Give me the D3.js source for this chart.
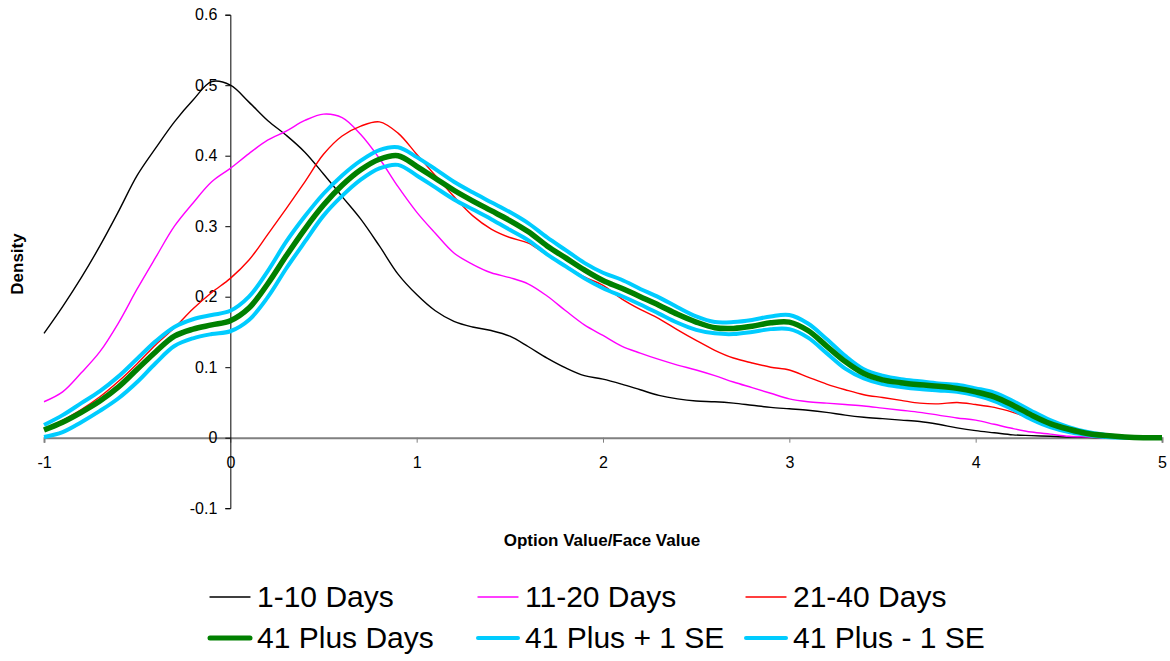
<!DOCTYPE html>
<html>
<head>
<meta charset="utf-8">
<script src="https://cdn.jsdelivr.net/npm/d3@7"></script>
<style>
  body { margin: 0; background: #fff; }
  text { font-family: "Liberation Sans", Arial, sans-serif; }
</style>
</head>
<body>
<script>
var width = 1170;
var height = 661;

// x grid shared by every series (option value / face value)
var xs = d3.range(61).map(function(i) { return +(-1 + i * 0.1).toFixed(1); });

var days1to10 = [0.148,0.186,0.227,0.272,0.321,0.372,0.411,0.448,0.479,0.505,
  0.500,0.476,0.450,0.429,0.405,0.374,0.342,0.310,0.272,0.232,
  0.203,0.180,0.165,0.157,0.152,0.144,0.129,0.113,0.099,0.088,
  0.083,0.076,0.068,0.060,0.055,0.052,0.051,0.049,0.046,0.043,
  0.041,0.039,0.036,0.032,0.029,0.027,0.025,0.023,0.019,0.014,
  0.010,0.007,0.004,0.003,0.002,0.001,0.0005,0,0,0,0];

var days11to20 = [0.051,0.065,0.092,0.122,0.163,0.211,0.256,0.300,0.333,0.363,
  0.382,0.403,0.422,0.435,0.450,0.459,0.454,0.430,0.396,0.356,
  0.320,0.290,0.262,0.246,0.234,0.227,0.218,0.201,0.180,0.160,
  0.145,0.130,0.120,0.111,0.103,0.096,0.088,0.079,0.071,0.063,
  0.055,0.051,0.049,0.047,0.045,0.042,0.039,0.036,0.032,0.028,
  0.025,0.019,0.013,0.008,0.005,0.002,0.001,0,0,0,0];

var days21to40 = [0.012,0.025,0.040,0.058,0.080,0.105,0.132,0.156,0.183,0.206,
  0.226,0.252,0.288,0.325,0.363,0.402,0.428,0.442,0.448,0.432,
  0.402,0.372,0.342,0.315,0.296,0.284,0.276,0.259,0.244,0.228,
  0.216,0.197,0.182,0.169,0.153,0.138,0.124,0.113,0.106,0.100,
  0.096,0.086,0.076,0.068,0.061,0.057,0.053,0.049,0.048,0.050,
  0.047,0.043,0.036,0.027,0.018,0.010,0.005,0.002,0.001,0,0];

var days41plus = [0.011,0.022,0.036,0.052,0.072,0.097,0.122,0.144,0.154,0.160,
  0.166,0.184,0.218,0.258,0.296,0.330,0.358,0.380,0.395,0.400,
  0.385,0.368,0.351,0.336,0.322,0.308,0.292,0.272,0.255,0.238,
  0.223,0.212,0.200,0.188,0.175,0.164,0.156,0.155,0.158,0.163,
  0.164,0.152,0.130,0.108,0.091,0.082,0.078,0.075,0.073,0.070,
  0.065,0.058,0.046,0.032,0.020,0.012,0.006,0.003,0.001,0,0];

var plusSE = [0.018,0.032,0.049,0.066,0.087,0.112,0.137,0.157,0.168,0.174,
  0.180,0.200,0.236,0.278,0.314,0.346,0.372,0.393,0.408,0.412,
  0.398,0.381,0.363,0.348,0.334,0.320,0.304,0.284,0.266,0.248,
  0.234,0.224,0.211,0.199,0.185,0.172,0.164,0.164,0.167,0.172,
  0.174,0.162,0.140,0.116,0.097,0.088,0.083,0.080,0.077,0.075,
  0.070,0.064,0.052,0.038,0.025,0.015,0.008,0.004,0.001,0,0];

var minusSE = [0.001,0.008,0.022,0.038,0.056,0.079,0.106,0.130,0.141,0.147,
  0.151,0.167,0.199,0.240,0.278,0.315,0.343,0.366,0.382,0.387,
  0.372,0.355,0.338,0.324,0.310,0.295,0.280,0.260,0.243,0.226,
  0.212,0.201,0.189,0.176,0.163,0.153,0.148,0.147,0.150,0.154,
  0.154,0.142,0.120,0.098,0.084,0.076,0.072,0.069,0.067,0.065,
  0.060,0.052,0.040,0.026,0.015,0.008,0.004,0.001,0,0,0];

var xTicks = [-1, 0, 1, 2, 3, 4, 5];
var xTickLabels = ["-1", "0", "1", "2", "3", "4", "5"];
var yTicks = [-0.1, 0, 0.1, 0.2, 0.3, 0.4, 0.5, 0.6];
var yTickLabels = ["-0.1", "0", "0.1", "0.2", "0.3", "0.4", "0.5", "0.6"];

var seriesNames = ["1-10 Days", "11-20 Days", "21-40 Days", "41 Plus Days", "41 Plus + 1 SE", "41 Plus - 1 SE"];

// drawing styles per series
var series = [
  { name: seriesNames[0], values: days1to10, color: "#000000", width: 1.4 },
  { name: seriesNames[1], values: days11to20, color: "#ff00ff", width: 1.4 },
  { name: seriesNames[2], values: days21to40, color: "#ff0000", width: 1.4 },
  { name: seriesNames[4], values: plusSE, color: "#00ccff", width: 4 },
  { name: seriesNames[5], values: minusSE, color: "#00ccff", width: 4 },
  { name: seriesNames[3], values: days41plus, color: "#008000", width: 5.5 }
];

var x = d3.scaleLinear().domain([-1, 5]).range([44, 1162]);
var y = d3.scaleLinear().domain([-0.1, 0.6]).range([508.2, 14.7]);

var svg = d3.select("body").append("svg")
    .attr("width", width)
    .attr("height", height);

// x axis sits on y = 0
var xAxis = d3.axisBottom(x)
    .tickValues(xTicks)
    .tickSize(5)
    .tickPadding(14)
    .tickFormat(function(d, i) { return xTickLabels[i]; });

var gx = svg.append("g")
    .attr("transform", "translate(0," + y(0) + ")")
    .call(xAxis);
gx.select(".domain").attr("stroke", "#808080").attr("stroke-width", 2);
gx.selectAll(".tick line").attr("stroke", "#808080");
gx.selectAll(".tick text").attr("font-size", 16).attr("fill", "#000")
    .style("font-family", "'Liberation Sans', Arial, sans-serif");

// y axis sits on x = 0
var yAxis = d3.axisLeft(y)
    .tickValues(yTicks)
    .tickSize(5)
    .tickPadding(8)
    .tickFormat(function(d, i) { return yTickLabels[i]; });

var gy = svg.append("g")
    .attr("transform", "translate(" + x(0) + ",0)")
    .call(yAxis);
gy.select(".domain").attr("stroke", "#000");
gy.selectAll(".tick text").attr("font-size", 16).attr("fill", "#000")
    .style("font-family", "'Liberation Sans', Arial, sans-serif");

var line = d3.line()
    .x(function(d, i) { return x(xs[i]); })
    .y(function(d) { return y(d); })
    .curve(d3.curveCatmullRom.alpha(0.5));

svg.selectAll("path.series")
    .data(series)
    .enter()
    .append("path")
    .attr("class", "series")
    .attr("d", function(d) { return line(d.values); })
    .attr("fill", "none")
    .attr("stroke", function(d) { return d.color; })
    .attr("stroke-width", function(d) { return d.width; })
    .attr("stroke-linejoin", "round");

// axis titles
svg.append("text")
    .attr("transform", "translate(23,264) rotate(-90)")
    .attr("text-anchor", "middle")
    .attr("font-size", 17)
    .attr("font-weight", "bold")
    .text("Density");

svg.append("text")
    .attr("x", 602)
    .attr("y", 546)
    .attr("text-anchor", "middle")
    .attr("font-size", 17)
    .attr("font-weight", "bold")
    .text("Option Value/Face Value");

// legend, two rows of three
var legendItems = [
  { name: seriesNames[0], color: "#000000", width: 1.4 },
  { name: seriesNames[1], color: "#ff00ff", width: 1.4 },
  { name: seriesNames[2], color: "#ff0000", width: 1.4 },
  { name: seriesNames[3], color: "#008000", width: 5 },
  { name: seriesNames[4], color: "#00ccff", width: 4 },
  { name: seriesNames[5], color: "#00ccff", width: 4 }
];
var colX = [210, 478, 746];
var rowY = [597, 638];

var legend = svg.selectAll("g.legend")
    .data(legendItems)
    .enter()
    .append("g")
    .attr("class", "legend")
    .attr("transform", function(d, i) {
      return "translate(" + colX[i % 3] + "," + rowY[Math.floor(i / 3)] + ")";
    });

legend.append("line")
    .attr("x1", 0).attr("x2", 40)
    .attr("stroke", function(d) { return d.color; })
    .attr("stroke-width", function(d) { return d.width; })
    .attr("stroke-linecap", "round");

legend.append("text")
    .attr("x", 47)
    .attr("y", 10)
    .attr("font-size", 30)
    .text(function(d) { return d.name; });
</script>
</body>
</html>
